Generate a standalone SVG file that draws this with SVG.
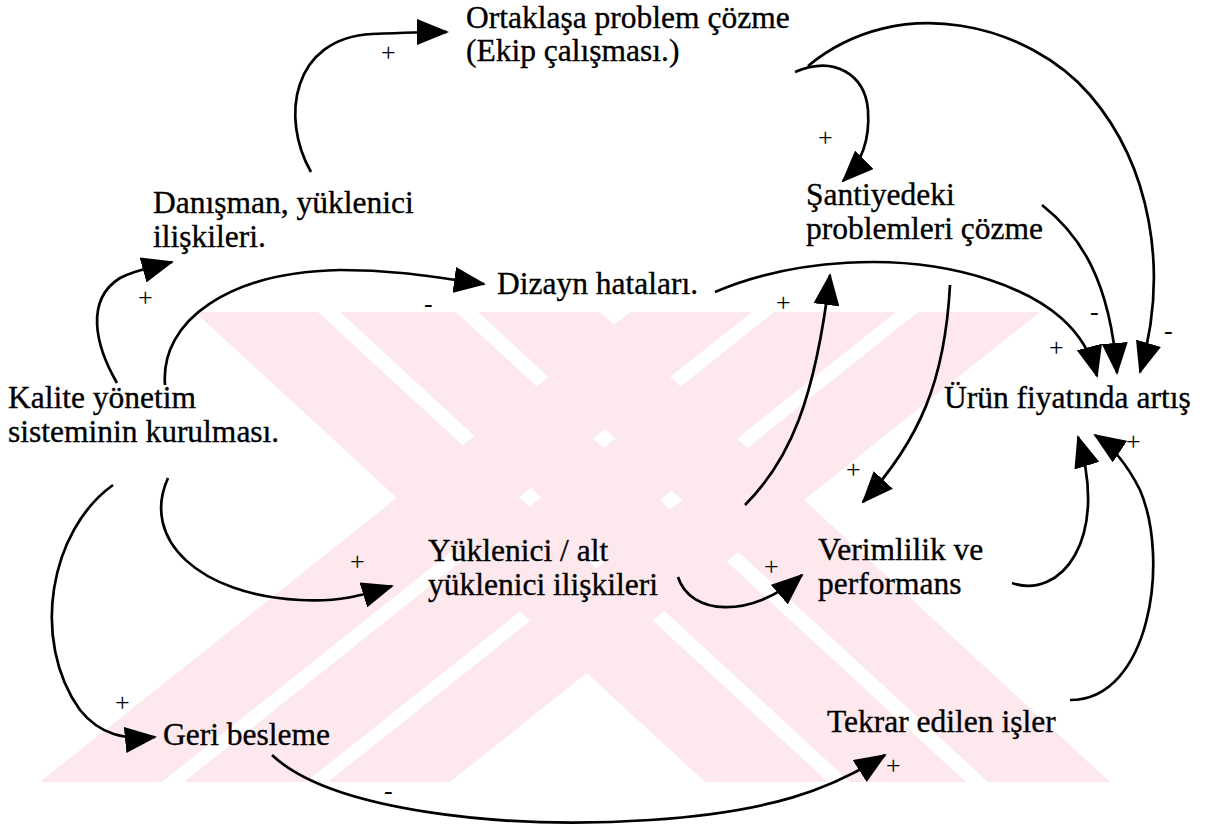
<svg xmlns="http://www.w3.org/2000/svg" width="1210" height="834" viewBox="0 0 1210 834">
  <defs>
    <marker id="head" markerUnits="userSpaceOnUse" markerWidth="32" markerHeight="26" viewBox="0 0 32 26" refX="30" refY="13" orient="auto">
      <path d="M0,0 L32,13 L0,26 z" fill="#000"/>
    </marker>
    <clipPath id="band">
      <rect x="0" y="312" width="1210" height="470"/>
    </clipPath>
    <style>
      .lbl { font-family: "Liberation Serif", "Times New Roman", serif; font-size: 31.5px; fill: #000; stroke: #000; stroke-width: 0.35; }
      .sgn { font-family: "Liberation Serif", "Times New Roman", serif; font-size: 26px; fill: #000; }
      .edge { fill: none; stroke: #000; stroke-width: 2.7; marker-end: url(#head); }
      .wm { fill: #fde9ed; }
    </style>
  </defs>
  <rect width="1210" height="834" fill="#fff"/>

  <!-- background emblem: striped X -->
  <g id="emblem" clip-path="url(#band)">
    <polygon class="wm" points="195,312 318,312 828,782 705,782"/>
    <polygon class="wm" points="340,312 456,312 966,782 850,782"/>
    <polygon class="wm" points="478,312 600,312 1110,782 988,782"/>
    <polygon class="wm" points="630,312 752,312 162,782 40,782"/>
    <polygon class="wm" points="774,312 896,312 306,782 184,782"/>
    <polygon class="wm" points="918,312 1040,312 450,782 328,782"/>
  </g>

  <!-- connectors -->
  <g id="connectors">
    <path class="edge" d="M311,172 C280,118 292,38 372,34 C395,33 420,32 447,32"/>
    <path class="edge" d="M117,383 C95,345 85,300 120,278 C135,270 150,268 172,262"/>
    <path class="edge" d="M165,385 C160,320 230,272 340,270 C400,270 440,278 484,284"/>
    <path class="edge" d="M795,72 C835,55 865,75 868,110 C870,140 862,162 843,181"/>
    <path class="edge" d="M808,66 C900,-10 1030,25 1090,95 C1150,165 1170,270 1140,372"/>
    <path class="edge" d="M1042,205 C1080,235 1110,280 1117,373"/>
    <path class="edge" d="M715,292 C790,260 900,250 990,280 C1050,300 1085,330 1097,376"/>
    <path class="edge" d="M745,505 C790,460 815,400 830,275"/>
    <path class="edge" d="M950,285 C945,380 920,440 863,502"/>
    <path class="edge" d="M168,478 C140,540 200,595 300,600 C340,602 360,596 392,586"/>
    <path class="edge" d="M678,577 C690,615 750,620 802,575"/>
    <path class="edge" d="M1012,583 C1060,600 1110,540 1078,437"/>
    <path class="edge" d="M1070,700 C1150,700 1170,560 1140,490 C1125,460 1110,445 1095,435"/>
    <path class="edge" d="M113,485 C50,530 30,640 80,710 C100,735 125,740 155,737"/>
    <path class="edge" d="M272,755 C330,810 500,830 650,820 C770,812 830,790 885,755"/>
  </g>

  <!-- link polarities -->
  <g id="polarities">
    <text class="sgn" x="381" y="61">+</text>
    <text class="sgn" x="818" y="146">+</text>
    <text class="sgn" x="138" y="306">+</text>
    <text class="sgn" x="424" y="312">-</text>
    <text class="sgn" x="776" y="311">+</text>
    <text class="sgn" x="1090" y="320">-</text>
    <text class="sgn" x="1164" y="339">-</text>
    <text class="sgn" x="1049" y="356">+</text>
    <text class="sgn" x="1081" y="463">-</text>
    <text class="sgn" x="1126" y="450">+</text>
    <text class="sgn" x="846" y="478">+</text>
    <text class="sgn" x="350" y="570">+</text>
    <text class="sgn" x="764" y="575">+</text>
    <text class="sgn" x="115" y="711">+</text>
    <text class="sgn" x="886" y="774">+</text>
    <text class="sgn" x="384" y="799">-</text>
  </g>

  <!-- variables -->
  <g id="ortaklasa">
    <text class="lbl" x="466" y="28">Ortaklaşa problem çözme</text>
    <text class="lbl" x="466" y="61">(Ekip çalışması.)</text>
  </g>
  <g id="danisman">
    <text class="lbl" x="153" y="213">Danışman, yüklenici</text>
    <text class="lbl" x="153" y="247">ilişkileri.</text>
  </g>
  <g id="santiye">
    <text class="lbl" x="806" y="205">Şantiyedeki</text>
    <text class="lbl" x="806" y="239">problemleri çözme</text>
  </g>
  <g id="dizayn">
    <text class="lbl" x="497" y="294">Dizayn hataları.</text>
  </g>
  <g id="kalite">
    <text class="lbl" x="8" y="408">Kalite yönetim</text>
    <text class="lbl" x="8" y="442">sisteminin kurulması.</text>
  </g>
  <g id="urun">
    <text class="lbl" x="944" y="408">Ürün fiyatında artış</text>
  </g>
  <g id="yuklenici">
    <text class="lbl" x="428" y="561">Yüklenici / alt</text>
    <text class="lbl" x="428" y="595">yüklenici ilişkileri</text>
  </g>
  <g id="verimlilik">
    <text class="lbl" x="818" y="560">Verimlilik ve</text>
    <text class="lbl" x="818" y="594">performans</text>
  </g>
  <g id="geri">
    <text class="lbl" x="163" y="745">Geri besleme</text>
  </g>
  <g id="tekrar">
    <text class="lbl" x="827" y="732">Tekrar edilen işler</text>
  </g>
</svg>
